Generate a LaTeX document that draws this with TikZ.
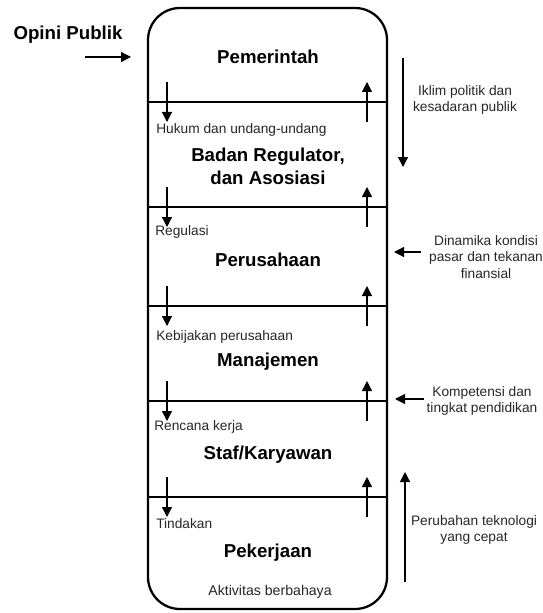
\documentclass[tikz,border=0pt]{standalone}
\usepackage{fontspec}
\setmainfont{Liberation Sans}
\usetikzlibrary{arrows.meta,calc,positioning}

\tikzset{
  layer/.style={font=\bfseries\fontsize{14}{17}\selectfont, align=center},
  flow/.style={font=\fontsize{10.3}{12}\selectfont, color=black!85, anchor=west, inner sep=0pt},
  factor/.style={font=\fontsize{10.3}{12.2}\selectfont, color=black!85, align=center, inner sep=0pt},
  arr/.style={black, line width=0.9pt, -{Triangle[width=7.5pt,length=7.5pt]}}
}

\begin{document}
\begin{tikzpicture}[x=0.75pt,y=-0.75pt]
\useasboundingbox (0,0) rectangle (542,613);
% =============================================
% - column of layers.
\draw [black,line width=1.7pt,rounded corners=24pt] (148,8) rectangle (387,609);
\draw [black,line width=1.5pt] (148,102) -- (387,102);
\draw [black,line width=1.5pt] (148,207) -- (387,207);
\draw [black,line width=1.5pt] (148,306) -- (387,306);
\draw [black,line width=1.5pt] (148,401) -- (387,401);
\draw [black,line width=1.5pt] (148,497) -- (387,497);
%
% - layer names.
\node[layer] (pem) at (268,57) {Pemerintah};
\node[layer] (reg) at (268,166) {Badan Regulator,\\dan Asosiasi};
\node[layer] (per) at (268,260) {Perusahaan};
\node[layer] (man) at (268,362) {Manajemen};
\node[layer] (staf) at (268,455) {Staf/Karyawan};
\node[layer] (kerja) at (268,553) {Pekerjaan};
\node[factor] (akt) at (270,592) {\fontsize{10.6}{12}\selectfont Aktivitas berbahaya};
%
% - what goes down.
\node[flow] (hukum) at (156,130) {Hukum dan undang-undang};
\node[flow] (regul) at (155,232) {Regulasi};
\node[flow] (kebij) at (156,337) {Kebijakan perusahaan};
\node[flow] (renc) at (154,427) {Rencana kerja};
\node[flow] (tind) at (156,524) {Tindakan};
%
% - arrows down (left) and up (right) over each line.
\coordinate (d1s) at (167,82);  \coordinate (d1e) at (167,122);
\coordinate (d2s) at (167,187); \coordinate (d2e) at (167,227);
\coordinate (d3s) at (167,286); \coordinate (d3e) at (167,326);
\coordinate (d4s) at (167,381); \coordinate (d4e) at (167,421);
\coordinate (d5s) at (167,477); \coordinate (d5e) at (167,517);
\coordinate (u1s) at (367,122); \coordinate (u1e) at (367,82);
\coordinate (u2s) at (367,227); \coordinate (u2e) at (367,187);
\coordinate (u3s) at (367,326); \coordinate (u3e) at (367,286);
\coordinate (u4s) at (367,421); \coordinate (u4e) at (367,381);
\coordinate (u5s) at (367,517); \coordinate (u5e) at (367,477);
\draw [arr] (d1s) -- (d1e);
\draw [arr] (d2s) -- (d2e);
\draw [arr] (d3s) -- (d3e);
\draw [arr] (d4s) -- (d4e);
\draw [arr] (d5s) -- (d5e);
\draw [arr] (u1s) -- (u1e);
\draw [arr] (u2s) -- (u2e);
\draw [arr] (u3s) -- (u3e);
\draw [arr] (u4s) -- (u4e);
\draw [arr] (u5s) -- (u5e);
%
% - outside pressure.
\node[layer] (opini) at (68,35) {Opini Publik};
\coordinate (o1) at (85,57); \coordinate (o2) at (131,57);
\draw [arr] (o1) -- (o2);
%
\node[factor] (iklim) at (465,100) {Iklim politik dan\\kesadaran publik};
\coordinate (i1) at (403,58); \coordinate (i2) at (403,167);
\draw [arr] (i1) -- (i2);
%
\node[factor] (pasar) at (486,257) {Dinamika kondisi\\pasar dan tekanan\\finansial};
\coordinate (p1) at (421,252); \coordinate (p2) at (394,252);
\draw [arr] (p1) -- (p2);
%
\node[factor] (komp) at (482,401) {Kompetensi dan\\tingkat pendidikan};
\coordinate (k1) at (424,399); \coordinate (k2) at (395,399);
\draw [arr] (k1) -- (k2);
%
\node[factor] (tekno) at (474,530) {Perubahan teknologi\\yang cepat};
\coordinate (t1) at (405,582); \coordinate (t2) at (405,472);
\draw [arr] (t1) -- (t2);
% =============================================
\end{tikzpicture}
\end{document}
